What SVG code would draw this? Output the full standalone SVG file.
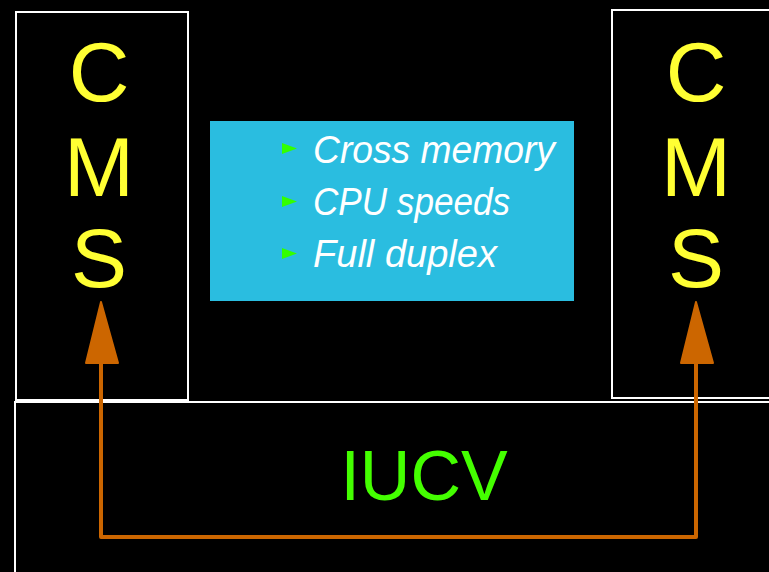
<svg xmlns="http://www.w3.org/2000/svg" width="769" height="572" viewBox="0 0 769 572">
<defs>
<style>
.box{fill:#000;stroke:#fff;stroke-width:2}
.cms{font-family:"Liberation Sans",Arial,sans-serif;font-size:84px;fill:#FFFF33;text-anchor:middle}
.bul{font-family:"Liberation Sans",Arial,sans-serif;font-style:italic;font-size:38px;fill:#fff}
.tri{fill:#33FF00}
.conn{fill:none;stroke:#CC6600;stroke-width:4;stroke-linejoin:round}
.head{fill:#CC6600;stroke:#CC6600;stroke-width:2;stroke-linejoin:round}
</style>
</defs>
<rect width="769" height="572" fill="#000"/>
<g id="iucv">
<rect class="box" x="15" y="402" width="770" height="190"/>
<text x="424" y="500" font-family="Liberation Sans,Arial,sans-serif" font-size="70" fill="#44FF00" text-anchor="middle">IUCV</text>
</g>
<g id="cms-left">
<rect class="box" x="16" y="12" width="172" height="388"/>
<text class="cms" x="99" y="101">C</text>
<text class="cms" x="99" y="196">M</text>
<text class="cms" x="99" y="287">S</text>
</g>
<g id="cms-right">
<rect class="box" x="612" y="10" width="170" height="388"/>
<text class="cms" x="696" y="101">C</text>
<text class="cms" x="696" y="196">M</text>
<text class="cms" x="696" y="287">S</text>
</g>
<g id="features">
<rect x="210" y="121" width="364" height="180" fill="#2ABDE0"/>
<polygon class="tri" points="282,143 297,148.5 282,154"/>
<polygon class="tri" points="282,196 297,201.5 282,207"/>
<polygon class="tri" points="282,248 297,253.5 282,259"/>
<text class="bul" x="313" y="163" textLength="242" lengthAdjust="spacingAndGlyphs">Cross memory</text>
<text class="bul" x="313" y="215" textLength="197" lengthAdjust="spacingAndGlyphs">CPU speeds</text>
<text class="bul" x="313" y="267" textLength="184" lengthAdjust="spacingAndGlyphs">Full duplex</text>
</g>
<g id="connectors">
<polyline class="conn" points="101,362 101,537 696,537 696,362"/>
<polygon class="head" points="101,302 86,363 118,363"/>
<polygon class="head" points="696,302 681,363 713,363"/>
</g>
</svg>
